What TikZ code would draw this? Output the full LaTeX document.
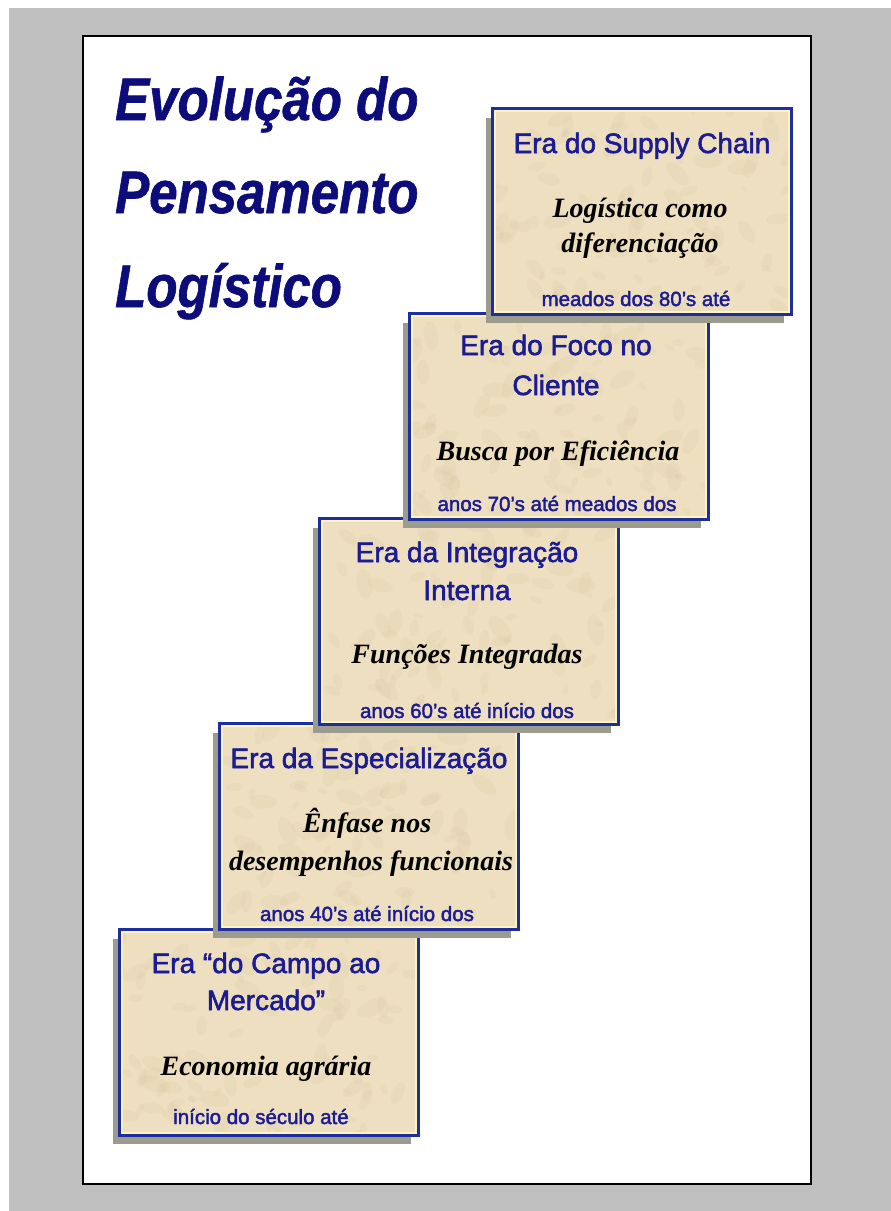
\documentclass[tikz,border=0pt]{standalone}
\usepackage{fontspec}
\setmainfont{Liberation Sans}
\newfontfamily\titlefont[FakeStretch=0.85,FakeBold=1]{Liberation Sans}
\newfontfamily\hdrfont[FakeBold=2]{Liberation Sans}
\newfontfamily\serifit{Liberation Serif}
\usetikzlibrary{shadows}
\definecolor{bggray}{HTML}{C0C0C0}
\definecolor{titleblue}{HTML}{0C0C7A}
\definecolor{hdrblue}{HTML}{1C1C92}
\definecolor{boxblue}{HTML}{1E2E9C}
\definecolor{parch}{HTML}{EDDFC0}
\definecolor{mottle}{HTML}{D2BC94}
\definecolor{paleline}{HTML}{FFF4C0}
\definecolor{shadowgray}{HTML}{9C9C8E}
\pgfmathsetseed{7}
\newcommand{\eraframe}[3]{%
  \node[era] (#1) at (#2,#3) {};
  \begin{scope}
  \clip ([shift={(4pt,-4pt)}]#1.north west) rectangle ([shift={(-4pt,4pt)}]#1.south east);
  \foreach \k in {1,...,90}{%
    \pgfmathsetmacro{\mx}{#2+298*rnd}%
    \pgfmathsetmacro{\my}{#3+205*rnd}%
    \pgfmathsetmacro{\mr}{4+12*rnd}%
    \pgfmathsetmacro{\ma}{180*rnd}%
    \fill[mottle, opacity=0.12, rotate around={\ma:(\mx,\my)}] (\mx,\my) ellipse ({\mr pt} and {0.5*\mr pt});
  }
  \end{scope}
  \draw[paleline, line width=1.8pt] ([shift={(3.6pt,-3.6pt)}]#1.north west) rectangle ([shift={(-3.6pt,3.6pt)}]#1.south east);
}
\begin{document}
\begin{tikzpicture}[x=1pt,y=-1pt,
  hdr/.style={anchor=base, text=hdrblue, font=\hdrfont\fontsize{28}{28}\selectfont, inner sep=0},
  sub/.style={anchor=base, text=black, font=\serifit\bfseries\itshape\fontsize{28}{28}\selectfont, inner sep=0},
  foot/.style={anchor=base, text=hdrblue, font=\hdrfont\fontsize{20.5}{20.5}\selectfont, inner sep=0},
  ttl/.style={anchor=base west, text=titleblue, font=\titlefont\bfseries\itshape\fontsize{60}{60}\selectfont, inner sep=0},
  era/.style={draw=boxblue, line width=3.6pt, fill=parch, minimum width=298pt, minimum height=205pt, inner sep=0, anchor=north west,
    drop shadow={shadow xshift=-7pt, shadow yshift=-9pt, fill=shadowgray, opacity=1}},
]
\useasboundingbox (0,0) rectangle (891,1211);
\fill[white] (0,0) rectangle (891,1211);
\fill[bggray] (9,8) rectangle (891,1211);
\draw[fill=white, draw=black, line width=2pt] (83,36) rectangle (811,1184);

% title
\node[ttl] (t1) at (115,120) {Evolução do};
\node[ttl] (t2) at (115,213) {Pensamento};
\node[ttl] (t3) at (115,307) {Logístico};

% Box 5
\eraframe{b5}{118}{928}
\begin{scope}
\clip ([shift={(1.8pt,-1.8pt)}]b5.north west) rectangle ([shift={(-1.8pt,1.8pt)}]b5.south east);
\node[hdr] (b5h1) at (266,973) {Era “do Campo ao};
\node[hdr] (b5h2) at (266,1010) {Mercado”};
\node[sub] (b5s1) at (266,1075) {Economia agrária};
\node[foot] (b5f) at (261,1124) {início do século até};
\end{scope}

% Box 4
\eraframe{b4}{218}{722}
\begin{scope}
\clip ([shift={(1.8pt,-1.8pt)}]b4.north west) rectangle ([shift={(-1.8pt,1.8pt)}]b4.south east);
\node[hdr] (b4h1) at (369,768) {Era da Especialização};
\node[sub] (b4s1) at (367,832) {Ênfase nos};
\node[sub] (b4s2) at (371,870) {desempenhos funcionais};
\node[foot] (b4f) at (367,921) {anos 40’s até início dos};
\end{scope}

% Box 3
\eraframe{b3}{318}{517}
\begin{scope}
\clip ([shift={(1.8pt,-1.8pt)}]b3.north west) rectangle ([shift={(-1.8pt,1.8pt)}]b3.south east);
\node[hdr] (b3h1) at (467,562) {Era da Integração};
\node[hdr] (b3h2) at (467,600) {Interna};
\node[sub] (b3s1) at (467,663) {Funções Integradas};
\node[foot] (b3f) at (467,718) {anos 60’s até início dos};
\end{scope}

% Box 2
\eraframe{b2}{408}{312}
\begin{scope}
\clip ([shift={(1.8pt,-1.8pt)}]b2.north west) rectangle ([shift={(-1.8pt,1.8pt)}]b2.south east);
\node[hdr] (b2h1) at (556,355) {Era do Foco no};
\node[hdr] (b2h2) at (556,395) {Cliente};
\node[sub] (b2s1) at (558,460) {Busca por Eficiência};
\node[foot] (b2f) at (557,511) {anos 70’s até meados dos};
\end{scope}

% Box 1
\eraframe{b1}{491}{107}
\begin{scope}
\clip ([shift={(1.8pt,-1.8pt)}]b1.north west) rectangle ([shift={(-1.8pt,1.8pt)}]b1.south east);
\node[hdr] (b1h1) at (642,153) {Era do Supply Chain};
\node[sub] (b1s1) at (640,217) {Logística como};
\node[sub] (b1s2) at (640,252) {diferenciação};
\node[foot] (b1f) at (636,306) {meados dos 80’s até};
\end{scope}
\end{tikzpicture}
\end{document}
